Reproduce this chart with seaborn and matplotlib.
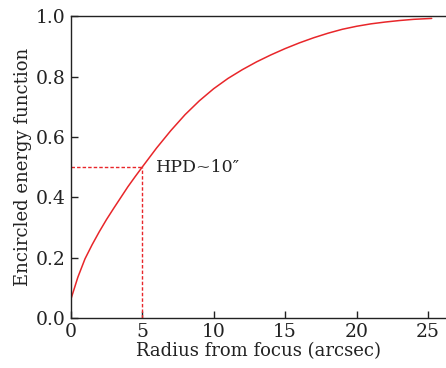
import matplotlib
matplotlib.use("Agg")
import matplotlib.pyplot as plt
import seaborn as sns
import pandas as pd

radius = [0, 0.5, 1, 1.5, 2, 2.5, 3, 3.5, 4, 4.5, 5, 6, 7, 8, 9, 10, 11, 12, 13, 14, 15, 16, 17, 18,
          19, 20, 21, 22, 23, 24, 25.25]
energy = [0.06, 0.135, 0.196, 0.243, 0.286, 0.326, 0.363, 0.399, 0.435, 0.468, 0.50, 0.563, 0.621,
          0.674, 0.72, 0.76, 0.794, 0.823, 0.849, 0.872, 0.893, 0.912, 0.929, 0.944, 0.957, 0.967,
          0.975, 0.981, 0.986, 0.990, 0.993]
hpd_radius = 5
hpd_level = 0.5
xticks = [0, 5, 10, 15, 20, 25]
yticks = [0.0, 0.2, 0.4, 0.6, 0.8, 1.0]

sns.set_style("ticks")
plt.rcParams['font.family'] = ['DejaVu Serif', 'DejaVu Sans']
plt.rcParams['xtick.direction'] = 'in'
plt.rcParams['ytick.direction'] = 'in'

fig = plt.figure(figsize=(4.46, 3.68), dpi=100)
ax = fig.add_axes([0.1585, 0.1359, 0.8415, 0.8198])

df = pd.DataFrame({"r": radius, "ee": energy})
red = "#e8262a"
sns.lineplot(data=df, x="r", y="ee", ax=ax, color=red, linewidth=1.1)

ax.plot([0, hpd_radius], [hpd_level, hpd_level], color=red, linewidth=1.0, linestyle=(0, (2.5, 1.5)))
ax.plot([hpd_radius, hpd_radius], [0, hpd_level], color=red, linewidth=1.0, linestyle=(0, (2.5, 1.5)))
ax.text(hpd_radius + 1.0, hpd_level, "HPD~10\u2033", fontsize=12.5, ha="left", va="center", color="#222222")

ax.set_xlim(0, 26.25)
ax.set_ylim(0, 1.0)
ax.set_xticks(xticks)
ax.set_yticks(yticks)
ax.set_xticklabels([str(t) for t in xticks])
ax.set_yticklabels([f"{t:.1f}" for t in yticks])
ax.tick_params(labelsize=13.5, length=5, width=1, colors="#222222")
ax.set_xlabel("Radius from focus (arcsec)", fontsize=13, color="#222222", labelpad=1)
ax.set_ylabel("Encircled energy function", fontsize=13, color="#222222", labelpad=3)
ax.spines["right"].set_visible(False)
for s in ["left", "top", "bottom"]:
    ax.spines[s].set_color("#222222")
    ax.spines[s].set_linewidth(1.0)

fig.savefig("out.png", dpi=100)
